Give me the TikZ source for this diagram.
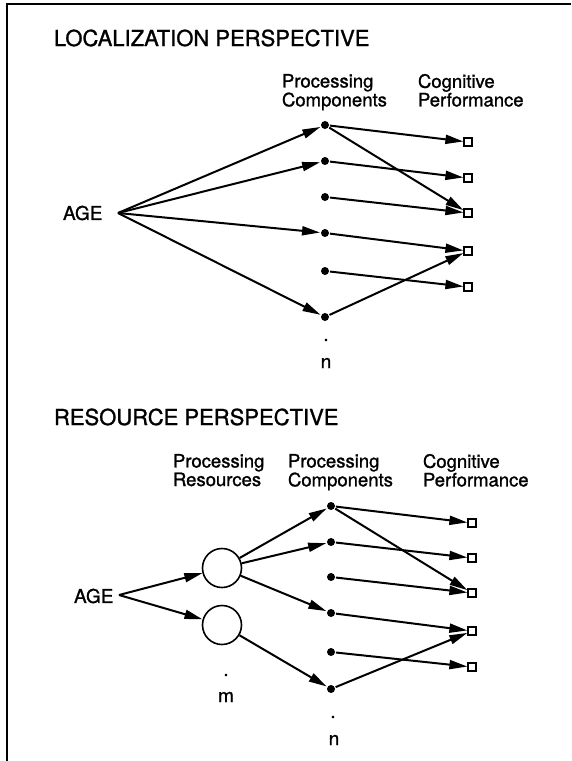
\documentclass[tikz,border=0pt]{standalone}
\usepackage{fontspec}
\setmainfont[FakeBold=1.2]{TeX Gyre Heros}
\usetikzlibrary{arrows.meta}

\begin{document}
\begin{tikzpicture}
[x=1pt,y=-1pt,line width=2pt,>={Triangle[length=18pt,width=9pt]},
dot/.style={circle,fill=black,inner sep=0pt,minimum size=8pt},
sq/.style={rectangle,draw=black,fill=white,line width=1.2pt,inner sep=0pt,minimum size=8pt},
res/.style={circle,draw=black,line width=1.6pt,inner sep=0pt,minimum size=39pt},
lbl/.style={align=left,anchor=north west,inner sep=0pt,font=\fontsize{18.5}{17}\selectfont},
heading/.style={anchor=west,inner sep=0pt,font=\fontsize{22}{26}\selectfont},
tag/.style={inner sep=0pt,font=\fontsize{19}{22}\selectfont}]
\useasboundingbox (0,0) rectangle (571,761);
\draw (7,761) -- (7,4) -- (571,4);
% localization perspective
\node[heading] at (53,38) (t1) {LOCALIZATION PERSPECTIVE};
\node[lbl] at (281,73) (pc1) {Processing\\Components};
\node[lbl] at (417,73) (cp1) {Cognitive\\Performance};
\node[tag,anchor=west] at (62,213) (age1) {AGE};
\coordinate (o1) at (118,213);
\node[dot] at (325,125) (c11) {};
\node[dot] at (325,161) (c12) {};
\node[dot] at (325,197) (c13) {};
\node[dot] at (325,233) (c14) {};
\node[dot] at (325,271) (c15) {};
\node[dot] at (325,317) (c16) {};
\node[sq] at (468,142) (p11) {};
\node[sq] at (468,178) (p12) {};
\node[sq] at (468,213) (p13) {};
\node[sq] at (468,251) (p14) {};
\node[sq] at (468,287) (p15) {};
\node[tag] at (326,340) (e1) {.};
\node[tag] at (326,363) (n1) {n};
\draw[->] (o1) -- (c11);
\draw[->] (o1) -- (c12);
\draw[->] (o1) -- (c14);
\draw[->] (o1) -- (c16);
\draw[->] (c11) -- (p11);
\draw[->] (c11) -- (p13);
\draw[->] (c12) -- (p12);
\draw[->] (c13) -- (p13);
\draw[->] (c14) -- (p14);
\draw[->] (c15) -- (p15);
\draw[->] (c16) -- (p14);
% resource perspective
\node[heading] at (53,417) (t2) {RESOURCE PERSPECTIVE};
\node[lbl] at (172,453) (pr2) {Processing\\Resources};
\node[lbl] at (287,453) (pc2) {Processing\\Components};
\node[lbl] at (422,453) (cp2) {Cognitive\\Performance};
\node[tag,anchor=west] at (73,596) (age2) {AGE};
\coordinate (o2) at (119,595);
\node[res] at (222,568) (r1) {};
\node[res] at (222,625) (r2) {};
\node[dot] at (331,506) (c21) {};
\node[dot] at (331,542) (c22) {};
\node[dot] at (331,577) (c23) {};
\node[dot] at (331,613) (c24) {};
\node[dot] at (331,652) (c25) {};
\node[dot] at (331,689) (c26) {};
\node[sq] at (472,523) (p21) {};
\node[sq] at (472,558) (p22) {};
\node[sq] at (472,593) (p23) {};
\node[sq] at (472,631) (p24) {};
\node[sq] at (472,667) (p25) {};
\node[tag] at (226,675) (e2) {.};
\node[tag] at (226,697) (m2) {m};
\node[tag] at (333,717) (e3) {.};
\node[tag] at (334,740) (n2) {n};
\draw[->] (o2) -- (r1);
\draw[->] (o2) -- (r2);
\draw[->] (r1) -- (c21);
\draw[->] (r1) -- (c22);
\draw[->] (r1) -- (c24);
\draw[->] (r2) -- (c26);
\draw[->] (c21) -- (p21);
\draw[->] (c21) -- (p23);
\draw[->] (c22) -- (p22);
\draw[->] (c23) -- (p23);
\draw[->] (c24) -- (p24);
\draw[->] (c25) -- (p25);
\draw[->] (c26) -- (p24);
\end{tikzpicture}
\end{document}
